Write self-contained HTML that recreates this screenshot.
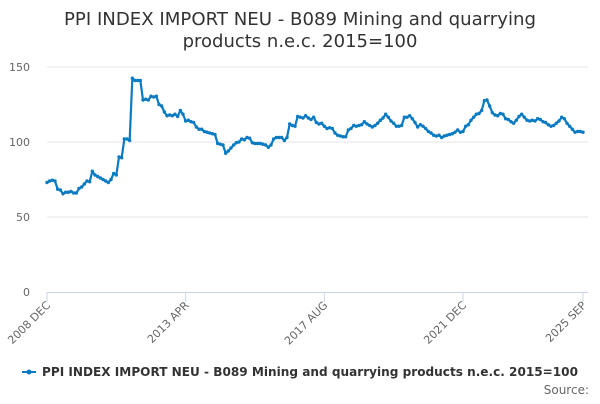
<!DOCTYPE html>
<html><head><meta charset="utf-8"><style>
body{margin:0;background:#fff;font-family:"DejaVu Sans",sans-serif}
svg text{font-family:"DejaVu Sans",sans-serif}
</style></head><body>
<svg id="chart" width="600" height="400">
<rect width="600" height="400" fill="#fff"/>
<text x="300" y="25" text-anchor="middle" font-size="18" fill="#333" textLength="472" lengthAdjust="spacingAndGlyphs">PPI INDEX IMPORT NEU - B089 Mining and quarrying</text>
<text x="300" y="47" text-anchor="middle" font-size="18" fill="#333">products n.e.c. 2015=100</text>
<g id="grid"></g><g id="xaxis"></g><g id="series"></g>
<g>
<line x1="22" y1="372" x2="36" y2="372" stroke="#0a7bc2" stroke-width="2"/>
<circle cx="29" cy="372" r="2.5" fill="#0a7bc2"/>
<text x="42" y="376" font-size="12" font-weight="bold" fill="#333" textLength="536" lengthAdjust="spacingAndGlyphs">PPI INDEX IMPORT NEU - B089 Mining and quarrying products n.e.c. 2015=100</text>
</g>
<text x="589" y="394" text-anchor="end" font-size="12" fill="#666">Source:</text>
</svg>
<script>
const values=[73,74,74.5,74,68.5,68,65.5,66.5,66.5,67,66,66,69,70,72,74,73.5,80.5,78,77,76,75,74,73,75,79,78,90,89.5,102,102,101,142.5,141,141,141,128,128.5,128,130.5,130,130.5,125,124,120,117.5,118,117.5,118.5,117,121,118.5,114,114.5,113.5,113,110,108.5,108.5,107,106.5,106,105.5,105,99,98.5,98,92.5,94,96,98,99.5,100,102,101.5,103,102.5,99.5,99,99,99,98.5,98,96.5,98,102,103,103,103,101,103,112,111,110.5,117,116.5,116,117.5,116,115,116.5,113,112,112.5,110.5,109,109.5,109,106,104.5,104,103.5,103.5,108,109,111,110.5,111,111.5,113.5,112,111,110,111,112.5,114.5,116,118.5,116.5,114,112.5,110.5,110.5,111,116.5,116.5,117.5,115.5,113,110,111.5,110.5,109,107,106,104.5,104,104.5,103,104,104.5,105,105.5,106.5,108,106.5,107,110.5,111.5,114.5,116.5,118.5,119,121,127.5,128,124,119.5,118,117.5,119,118.5,115.5,115,113.5,112.5,114.5,117,118.5,116.5,114.5,114,114.5,114,115.5,115,113.5,113,111.5,110.5,111,112.5,114,116.5,115.5,112.5,110.5,108.5,106.5,107,107,106.5];
const yTicks=[0,50,100,150];
const xTickIdx=[0,52,104,156,201];
const xTickLabels=["2008 DEC","2013 APR","2017 AUG","2021 DEC","2025 SEP"];
const NS="http://www.w3.org/2000/svg";
const x0=47,x1=583,yBase=292,yTop=67;
const xs=i=>x0+i*(x1-x0)/(values.length-1);
const ys=v=>yBase-(v/150)*(yBase-yTop);
function mk(t,a,p){const e=document.createElementNS(NS,t);for(const k in a)e.setAttribute(k,a[k]);p.appendChild(e);return e;}
const grid=document.getElementById('grid');
yTicks.forEach(v=>{
 if(v>0){const l=mk('line',{x1:x0,x2:x1+5,y1:ys(v),y2:ys(v),stroke:'#e6e6e6'},grid);
 
 }
 const t=mk('text',{x:30,y:ys(v)+4,'text-anchor':'end','font-size':11,fill:'#666'},grid);
 t.textContent=v;
 
 
});
const xa=document.getElementById('xaxis');
const ax=mk('line',{x1:x0,x2:x1+5,y1:yBase+0.5,y2:yBase+0.5,stroke:'#ccd6eb'},xa);


xTickIdx.forEach((ix,k)=>{
 const x=xs(ix);
 mk('line',{x1:x,x2:x,y1:yBase,y2:yBase+10,stroke:'#ccd6eb'},xa);
 const t=mk('text',{x:x+4,y:yBase+14,'text-anchor':'end','font-size':11,fill:'#666',transform:`rotate(-45 ${x+4} ${yBase+14})`},xa);
 t.textContent=xTickLabels[k];
 
 
});
const s=document.getElementById('series');
const p=mk('path',{d:values.map((v,i)=>(i?'L':'M')+xs(i).toFixed(2)+' '+ys(v).toFixed(2)).join(' '),fill:'none',stroke:'#0a7bc2','stroke-width':2.2,'stroke-linejoin':'round'},s);


values.forEach((v,i)=>{
 const c=mk('circle',{cx:xs(i),cy:ys(v),r:1.7,fill:'#0a7bc2'},s);
 
 
});
</script>
</body></html>
